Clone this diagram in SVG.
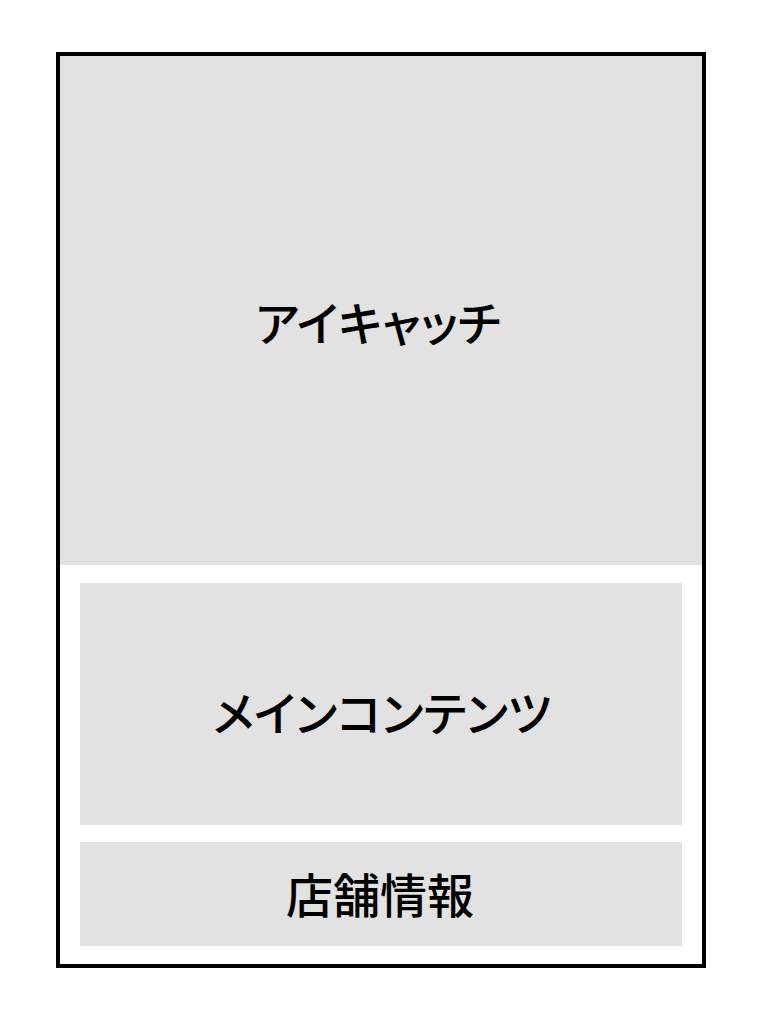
<svg xmlns="http://www.w3.org/2000/svg" width="765" height="1024" viewBox="0 0 765 1024">
<style>
.box{fill:#e1e2e1}
.lbl{font-family:"Noto Sans CJK JP","Noto Sans CJK SC",sans-serif;font-size:47px;font-weight:500;fill:#000;text-anchor:middle;dominant-baseline:central;font-feature-settings:"palt"}
</style>
<rect width="765" height="1024" fill="#fff"/>
<g id="frame">
<rect x="58" y="54" width="646" height="912" fill="#fff" stroke="#000" stroke-width="4"/>
</g>
<g id="eyecatch">
<rect class="box" x="60" y="56" width="642" height="509"/>
<text class="lbl" x="378" y="320">アイキャッチ</text>
</g>
<g id="main">
<rect class="box" x="80" y="583" width="602" height="242"/>
<text class="lbl" x="382" y="710">メインコンテンツ</text>
</g>
<g id="shop">
<rect class="box" x="80" y="842" width="602" height="104"/>
<text class="lbl" x="380" y="892">店舗情報</text>
</g>
<g id="connectors"/>
</svg>
